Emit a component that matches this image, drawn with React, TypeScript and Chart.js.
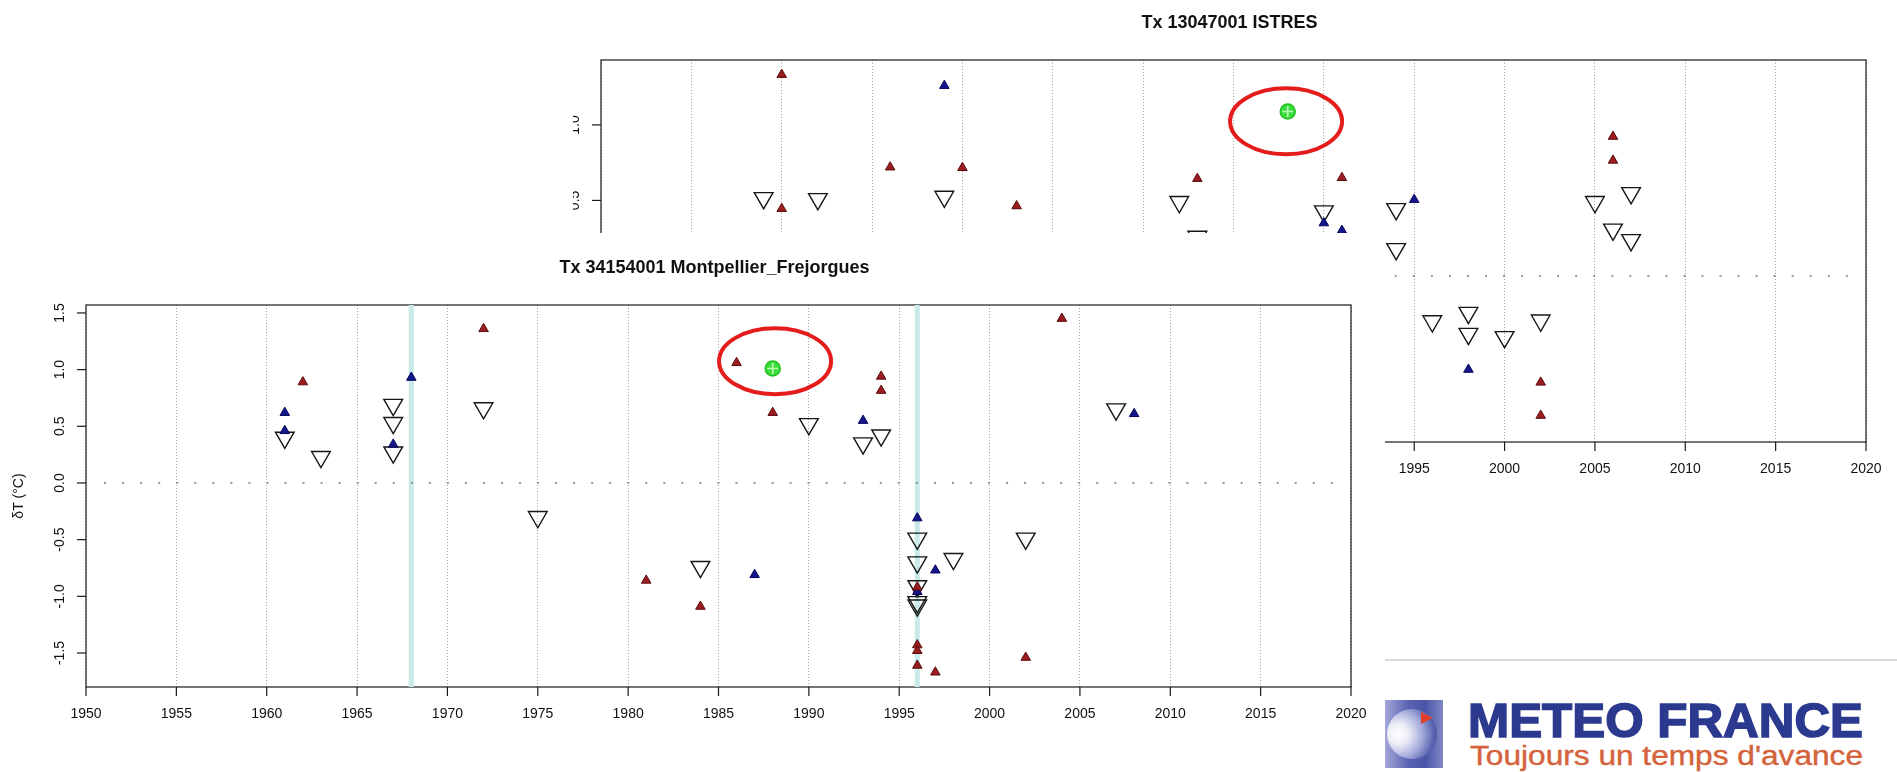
import React, { useEffect, useLayoutEffect, useRef } from 'react';
import { Chart, registerables } from 'chart.js';

Chart.register(...registerables);

type Pt = [number, number];

// ---------- shared axis data ----------
const X_TICKS = [1950, 1955, 1960, 1965, 1970, 1975, 1980, 1985, 1990, 1995, 2000, 2005, 2010, 2015, 2020];
const X_TICK_LABELS = ['1950', '1955', '1960', '1965', '1970', '1975', '1980', '1985', '1990', '1995', '2000', '2005', '2010', '2015', '2020'];
const ZERO_LINE_YEARS = [1951, 2019];
const Y_AXIS_TITLE = 'δT (°C)';

// ---------- Montpellier (front chart) ----------
const MTP_TITLE = 'Tx 34154001 Montpellier_Frejorgues';
const MTP_Y_RANGE = [-1.8, 1.57];
const MTP_Y_TICKS = [-1.5, -1, -0.5, 0, 0.5, 1, 1.5];
const MTP_Y_TICK_LABELS = ['-1.5', '-1.0', '-0.5', '0.0', '0.5', '1.0', '1.5'];
const MTP_RED: Pt[] = [
  [1962, 0.89], [1972, 1.36], [1981, -0.86], [1984, -1.09], [1986, 1.06], [1988, 0.62],
  [1994, 0.94], [1994, 0.815], [1996, -0.92], [1996, -1.43], [1996, -1.48], [1996, -1.61],
  [1997, -1.67], [2002, -1.54], [2004, 1.45],
];
const MTP_BLUE: Pt[] = [
  [1961, 0.62], [1961, 0.46], [1967, 0.34], [1968, 0.93], [1987, -0.81], [1993, 0.55],
  [1996, -0.31], [1996, -0.96], [1997, -0.77], [2008, 0.61],
];
const MTP_OPEN: Pt[] = [
  [1961, 0.4], [1963, 0.23], [1967, 0.69], [1967, 0.53], [1967, 0.27], [1972, 0.66],
  [1975, -0.3], [1984, -0.74], [1990, 0.52], [1993, 0.35], [1994, 0.42], [1996, -0.49],
  [1996, -0.7], [1996, -0.91], [1996, -1.05], [1996, -1.08], [1998, -0.67], [2002, -0.49],
  [2007, 0.65],
];
const MTP_GREEN: Pt[] = [[1988, 1.01]];
const MTP_BREAKS = [1968, 1996];
const MTP_CIRCLED: Pt = [1988.13, 1.074];

// ---------- Istres (back chart) ----------
const IST_TITLE = 'Tx 13047001 ISTRES';
const IST_Y_RANGE = [-1.1, 1.43];
const IST_Y_TICKS = [-1, -0.5, 0, 0.5, 1];
const IST_Y_TICK_LABELS = ['-1.0', '-0.5', '0.0', '0.5', '1.0'];
const IST_RED: Pt[] = [
  [1960, 1.333], [1960, 0.445], [1966, 0.72], [1970, 0.716], [1973, 0.463], [1983, 0.644],
  [1991, 0.65], [2002, -0.705], [2002, -0.925], [2006, 0.923], [2006, 0.765],
];
const IST_BLUE: Pt[] = [[1969, 1.26], [1990, 0.35], [1991, 0.3], [1995, 0.505], [1998, -0.62]];
const IST_OPEN: Pt[] = [
  [1959, 0.516], [1962, 0.509], [1969, 0.525], [1982, 0.49], [1983, 0.26], [1990, 0.428],
  [1994, 0.443], [1994, 0.178], [1996, -0.3], [1998, -0.244], [1998, -0.383], [2000, -0.405],
  [2002, -0.295], [2005, 0.49], [2006, 0.307], [2007, 0.549], [2007, 0.238],
];
const IST_GREEN: Pt[] = [[1988, 1.089]];
const IST_BREAKS: number[] = [];
const IST_CIRCLED: Pt = [1987.91, 1.024];

// ---------- logo text ----------
const LOGO_NAME = 'METEO FRANCE';
const LOGO_TAGLINE = "Toujours un temps d'avance";

const FONT = '"Liberation Sans", Arial, Helvetica, sans-serif';

const rStyle = {
  id: 'rStyle',
  beforeDatasetsDraw(chart: any, _args: any, o: any) {
    const { ctx, chartArea: a, scales } = chart;
    const xs = scales.x;
    const ys = scales.y;
    ctx.save();
    ctx.setLineDash([]);
    ctx.strokeStyle = '#1a1a1a';
    ctx.lineWidth = 1.2;
    ctx.strokeRect(a.left, a.top, a.right - a.left, a.bottom - a.top);
    ctx.fillStyle = '#111';
    ctx.font = `14px ${FONT}`;
    ctx.textAlign = 'center';
    ctx.textBaseline = 'middle';
    o.xTicks.forEach((v: number, i: number) => {
      const px = xs.getPixelForValue(v);
      ctx.beginPath();
      ctx.moveTo(px, a.bottom);
      ctx.lineTo(px, a.bottom + 9);
      ctx.stroke();
      ctx.fillText(o.xLabels[i], px, a.bottom + 27);
    });
    o.yTicks.forEach((v: number, i: number) => {
      const py = ys.getPixelForValue(v);
      ctx.beginPath();
      ctx.moveTo(a.left - 9, py);
      ctx.lineTo(a.left, py);
      ctx.stroke();
      ctx.save();
      ctx.translate(a.left - 26, py);
      ctx.rotate(-Math.PI / 2);
      ctx.fillText(o.yLabels[i], 0, 0);
      ctx.restore();
    });
    ctx.save();
    ctx.translate(a.left - 67, (a.top + a.bottom) / 2);
    ctx.rotate(-Math.PI / 2);
    ctx.fillText(o.yTitle, 0, 0);
    ctx.restore();
    ctx.font = `bold 18px ${FONT}`;
    ctx.fillText(o.title, (a.left + a.right) / 2 - 4, a.top - 37);
    ctx.restore();
  },
  afterDatasetsDraw(chart: any, _args: any, o: any) {
    const { ctx, scales } = chart;
    const cx = scales.x.getPixelForValue(o.circled[0]);
    const cy = scales.y.getPixelForValue(o.circled[1]);
    ctx.save();
    ctx.strokeStyle = '#e41c1c';
    ctx.lineWidth = 4;
    ctx.beginPath();
    ctx.ellipse(cx, cy, 56, 33, 0, 0, Math.PI * 2);
    ctx.stroke();
    ctx.restore();
  },
};

const toXY = (p: Pt) => ({ x: p[0], y: p[1] });

function buildDatasets(red: Pt[], blue: Pt[], open: Pt[], green: Pt[], breaks: number[], yr: number[]) {
  const sets: any[] = [
    {
      data: green.map(toXY), pointStyle: 'cross', pointRadius: 5.5,
      pointBorderColor: '#b8ffb8', pointBorderWidth: 1.6, borderColor: '#b8ffb8',
    },
    {
      data: green.map(toXY), pointStyle: 'circle', pointRadius: 7.5,
      pointBackgroundColor: '#3edc3e', backgroundColor: '#3edc3e',
      pointBorderColor: '#1fc21f', borderColor: '#1fc21f', pointBorderWidth: 1.5,
    },
    {
      data: red.map(toXY), pointStyle: 'triangle', pointRadius: 5.5,
      pointBackgroundColor: '#9c1d20', backgroundColor: '#9c1d20',
      pointBorderColor: '#5a0b0e', borderColor: '#5a0b0e', pointBorderWidth: 1,
    },
    {
      data: blue.map(toXY), pointStyle: 'triangle', pointRadius: 5.5,
      pointBackgroundColor: '#15168c', backgroundColor: '#15168c',
      pointBorderColor: '#05065a', borderColor: '#05065a', pointBorderWidth: 1,
    },
    {
      data: open.map(toXY), pointStyle: 'triangle', pointRotation: 180, pointRadius: 10.8,
      pointBackgroundColor: 'rgba(0,0,0,0)', backgroundColor: 'rgba(0,0,0,0)',
      pointBorderColor: '#161616', borderColor: '#161616', pointBorderWidth: 1.4,
    },
    {
      data: ZERO_LINE_YEARS.map((x) => ({ x, y: 0 })), showLine: true, pointRadius: 0,
      borderColor: '#8a8a8a', borderWidth: 1.8, borderDash: [2, 16.04],
    },
  ];
  breaks.forEach((b) => {
    sets.push({
      data: [{ x: b, y: yr[0] }, { x: b, y: yr[1] }], showLine: true, pointRadius: 0,
      borderColor: '#c8eae8', borderWidth: 5, borderCapStyle: 'butt',
    });
  });
  return sets;
}

interface RChartProps {
  width: number; height: number; top: number; right: number; yAxisWidth: number; xAxisHeight: number;
  title: string; yRange: number[]; yTicks: number[]; yLabels: string[];
  red: Pt[]; blue: Pt[]; open: Pt[]; green: Pt[]; breaks: number[]; circled: Pt;
}

function RChart(p: RChartProps) {
  const ref = useRef<HTMLCanvasElement>(null);
  useEffect(() => {
    const chart = new Chart(ref.current as HTMLCanvasElement, {
      type: 'scatter',
      data: { datasets: buildDatasets(p.red, p.blue, p.open, p.green, p.breaks, p.yRange) },
      options: {
        animation: false,
        responsive: false,
        maintainAspectRatio: false,
        events: [],
        layout: { padding: { left: 0, top: p.top, right: p.right, bottom: 0 } },
        plugins: {
          legend: { display: false },
          tooltip: { enabled: false },
          title: { display: false },
          rStyle: {
            title: p.title, yTitle: Y_AXIS_TITLE, xTicks: X_TICKS, xLabels: X_TICK_LABELS,
            yTicks: p.yTicks, yLabels: p.yLabels, circled: p.circled,
          },
        } as any,
        scales: {
          x: {
            type: 'linear', min: 1950, max: 2020,
            afterBuildTicks: (s: any) => { s.ticks = X_TICKS.map((v) => ({ value: v })); },
            afterFit: (s: any) => { s.height = p.xAxisHeight; },
            ticks: { display: false },
            grid: { color: '#a3a3a3', lineWidth: 1, drawTicks: false },
            border: { display: false, dash: [1, 2] },
          },
          y: {
            type: 'linear', min: p.yRange[0], max: p.yRange[1],
            afterFit: (s: any) => { s.width = p.yAxisWidth; },
            ticks: { display: false },
            grid: { display: false },
            border: { display: false },
          },
        } as any,
      },
      plugins: [rStyle as any],
    });
    return () => chart.destroy();
  }, []);
  return <canvas ref={ref} width={p.width} height={p.height} style={{ display: 'block', width: p.width, height: p.height }} />;
}

function FitText({ text, width, style }: { text: string; width: number; style: React.CSSProperties }) {
  const ref = useRef<HTMLSpanElement>(null);
  useLayoutEffect(() => {
    const el = ref.current;
    if (!el) return;
    el.style.transform = 'none';
    const w = el.getBoundingClientRect().width;
    if (w > 0) el.style.transform = `scaleX(${width / w})`;
  }, [text, width]);
  return (
    <span ref={ref} style={{ display: 'inline-block', whiteSpace: 'nowrap', transformOrigin: 'left top', ...style }}>
      {text}
    </span>
  );
}

export default function App() {
  return (
    <div style={{ position: 'fixed', left: 0, top: 0, width: 1897, height: 772, background: '#fff', overflow: 'hidden' }}>
      <div style={{ position: 'absolute', left: 573, top: 0, width: 1324, height: 500, overflow: 'hidden' }}>
        <RChart
          width={1324} height={500} top={60} right={31} yAxisWidth={28} xAxisHeight={58}
          title={IST_TITLE} yRange={IST_Y_RANGE} yTicks={IST_Y_TICKS} yLabels={IST_Y_TICK_LABELS}
          red={IST_RED} blue={IST_BLUE} open={IST_OPEN} green={IST_GREEN} breaks={IST_BREAKS} circled={IST_CIRCLED}
        />
      </div>
      <div style={{ position: 'absolute', left: 0, top: 233, width: 1385, height: 539, background: '#fff' }}>
        <RChart
          width={1385} height={539} top={72} right={34} yAxisWidth={86} xAxisHeight={85}
          title={MTP_TITLE} yRange={MTP_Y_RANGE} yTicks={MTP_Y_TICKS} yLabels={MTP_Y_TICK_LABELS}
          red={MTP_RED} blue={MTP_BLUE} open={MTP_OPEN} green={MTP_GREEN} breaks={MTP_BREAKS} circled={MTP_CIRCLED}
        />
      </div>
      <div style={{ position: 'absolute', left: 1385, top: 659, width: 512, height: 2, background: '#dadada' }} />
      <div
        style={{
          position: 'absolute', left: 1385, top: 700, width: 58, height: 68, overflow: 'hidden',
          background: 'linear-gradient(90deg, #a3a8d8 0%, #5a63b2 40%, #4a55a8 70%, #8088c4 100%)',
        }}
      >
        <div
          style={{
            position: 'absolute', left: 2, top: 9, width: 50, height: 50, borderRadius: '50%',
            background: 'radial-gradient(circle at 22% 50%, #ffffff 0%, #eeeef8 22%, #a5acdc 52%, #5661ae 78%, #3a4596 100%)',
          }}
        />
        <div
          style={{
            position: 'absolute', left: 36, top: 12, width: 0, height: 0,
            borderTop: '6px solid transparent', borderBottom: '6px solid transparent', borderLeft: '12px solid #e0402a',
          }}
        />
      </div>
      <div style={{ position: 'absolute', left: 1468, top: 695.6, lineHeight: '49px' }}>
        <FitText
          text={LOGO_NAME}
          width={395}
          style={{ fontFamily: FONT, fontWeight: 700, fontSize: 49, color: '#2b3a8e', lineHeight: '49px', WebkitTextStroke: '1.6px #2b3a8e' } as React.CSSProperties}
        />
      </div>
      <div style={{ position: 'absolute', left: 1470, top: 743, lineHeight: '27px' }}>
        <FitText
          text={LOGO_TAGLINE}
          width={393}
          style={{ fontFamily: FONT, fontSize: 27, color: '#d4633c', lineHeight: '27px', WebkitTextStroke: '0.4px #d4633c' } as React.CSSProperties}
        />
      </div>
    </div>
  );
}
